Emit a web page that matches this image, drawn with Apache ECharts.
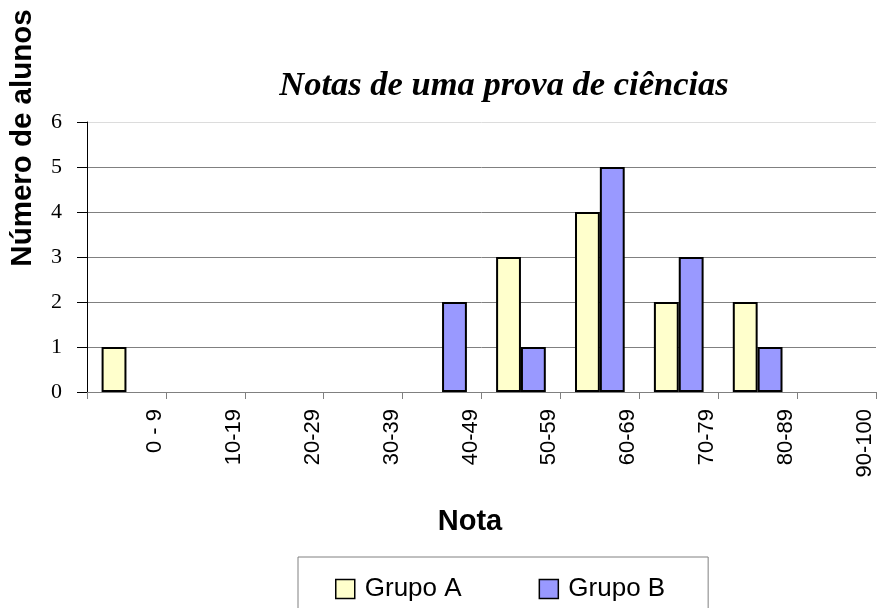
<!DOCTYPE html>
<html>
<head>
<meta charset="utf-8">
<script src="https://cdn.jsdelivr.net/npm/echarts@6/dist/echarts.min.js"></script>
<style>
html,body{margin:0;padding:0;background:#fff;}
#c{width:877px;height:608px;}
</style>
</head>
<body>
<div id="c"></div>
<script>
const categories = ['0 - 9','10-19','20-29','30-39','40-49','50-59','60-69','70-79','80-89','90-100'];
const grupoA = [1,0,0,0,0,3,4,2,2,0];
const grupoB = [0,0,0,0,2,1,5,3,1,0];
const yTicks = [0,1,2,3,4,5,6];
const seriesNames = ['Grupo A','Grupo B'];

// zero-height bars are not drawn in the reference
const asBars = arr => arr.map(v => (v === 0 ? null : v));

const chart = echarts.init(document.getElementById('c'), null, {renderer:'canvas'});
const option = {
  backgroundColor:'#fff',
  animation:false,
  title:{
    text:'Notas de uma prova de ciências',
    left:499, top:64, textAlign:'center',
    textStyle:{fontFamily:'Liberation Serif', fontStyle:'italic', fontWeight:'bold', fontSize:34.5, color:'#000'}
  },
  graphic:[
    {type:'text', x:23, y:138, rotation:Math.PI/2,
     style:{text:'Número de alunos', font:'bold 29.5px "Liberation Sans"', fill:'#000', textAlign:'center', textVerticalAlign:'middle'}},
    {type:'text', x:470, y:522,
     style:{text:'Nota', font:'bold 29px "Liberation Sans"', fill:'#000', textAlign:'center', textVerticalAlign:'middle'}}
  ],
  legend:{
    data:seriesNames,
    left:298, top:557,
    padding:[19,43,22,37],
    borderColor:'#808080', borderWidth:1,
    itemWidth:19, itemHeight:19, itemGap:77,
    icon:'rect',
    itemStyle:{borderColor:'#000', borderWidth:1.5},
    textStyle:{fontFamily:'Liberation Sans', fontSize:26, color:'#000', padding:[0,0,0,5]}
  },
  grid:{left:87, right:1, top:122, bottom:216, containLabel:false},
  xAxis:[
    {type:'category', data:categories, boundaryGap:true,
     axisLine:{show:true, lineStyle:{color:'#808080', width:1}},
     axisTick:{show:false}, axisLabel:{show:false}, splitLine:{show:false}},
    {type:'category', data:[''].concat(categories), boundaryGap:false, position:'bottom',
     axisLine:{show:false},
     axisTick:{show:true, length:7, lineStyle:{color:'#808080'}},
     axisLabel:{show:true, interval:0, rotate:90, margin:17, verticalAlign:'bottom',
       fontFamily:'Liberation Sans', fontSize:22, color:'#000'},
     splitLine:{show:false}}
  ],
  yAxis:{
    type:'value', min:yTicks[0], max:yTicks[yTicks.length-1], interval:1,
    axisLine:{show:true, lineStyle:{color:'#000', width:1}},
    axisTick:{show:true, length:10, lineStyle:{color:'#000'}},
    axisLabel:{margin:25, fontFamily:'Liberation Serif', fontSize:22, color:'#000'},
    splitLine:{show:true, lineStyle:{color:['#808080','#808080','#808080','#808080','#808080','#808080','#dcdcdc'], width:1}}
  },
  series:[
    {name:seriesNames[0], type:'bar', xAxisIndex:0, data:asBars(grupoA), barGap:'0%', barCategoryGap:'37%',
     itemStyle:{color:'#FFFFCC', borderColor:'#000', borderWidth:2}},
    {name:seriesNames[1], type:'bar', xAxisIndex:0, data:asBars(grupoB), barGap:'0%', barCategoryGap:'37%',
     itemStyle:{color:'#9999FF', borderColor:'#000', borderWidth:2}}
  ]
};
chart.setOption(option);
</script>
</body>
</html>
